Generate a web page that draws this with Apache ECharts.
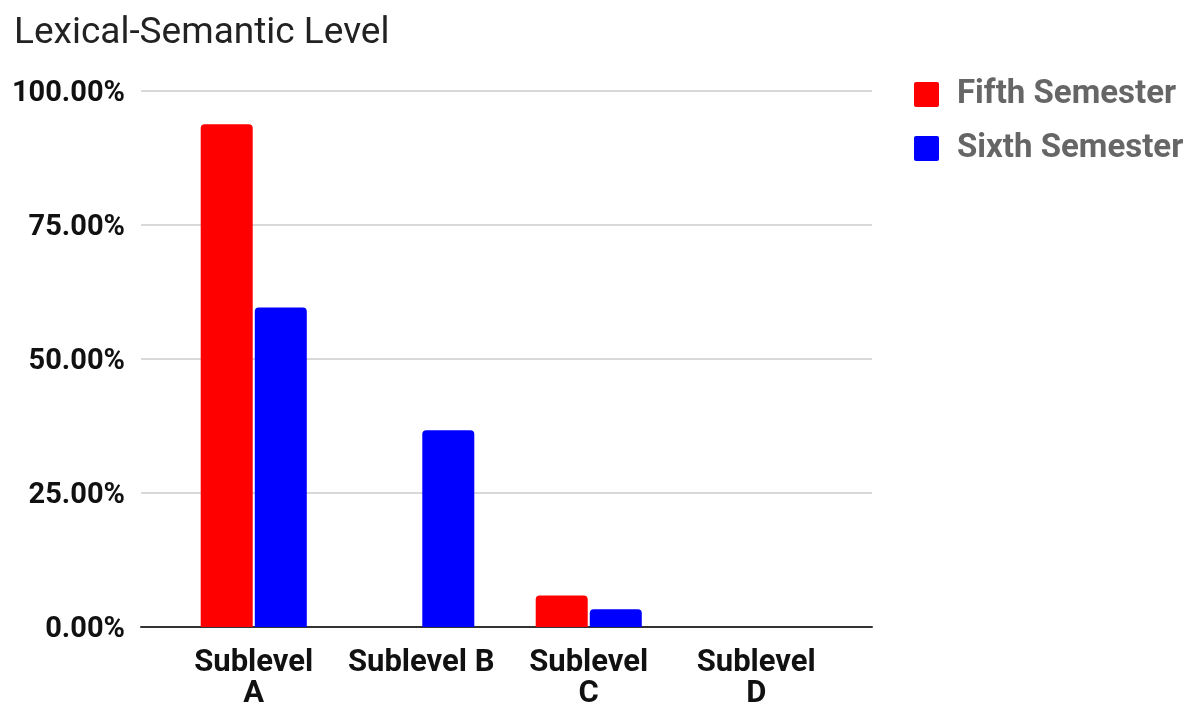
<!DOCTYPE html>
<html>
<head>
<meta charset="utf-8">
<script src="https://cdn.jsdelivr.net/npm/echarts@6/dist/echarts.min.js"></script>
<style>
  html, body { margin: 0; padding: 0; background: #fff; }
  #chart { width: 1188px; height: 704px; }
</style>
</head>
<body>
<div id="chart"></div>
<script>
// Share of items at each sublevel, per semester (percent)
const categories = ['Sublevel\nA', 'Sublevel B', 'Sublevel\nC', 'Sublevel\nD'];
const fifthSemester = [93.8, 0, 5.9, 0];
const sixthSemester = [59.6, 36.7, 3.3, 0];
const seriesNames = ['Fifth Semester', 'Sixth Semester'];
const yTicks = [0, 25, 50, 75, 100];

const FONT = 'Roboto, "Noto Sans", sans-serif';
const chart = echarts.init(document.getElementById('chart'));

const plotTop = 91, plotBottom = 77;
// square legend swatch with slightly softened corners
const swatch = 'path://M2,0H23Q25,0 25,2V23Q25,25 23,25H2Q0,25 0,23V2Q0,0 2,0Z';

chart.setOption({
  animation: false,
  backgroundColor: '#ffffff',
  title: {
    text: 'Lexical-Semantic Level',
    left: 9, top: 10,
    textStyle: { fontFamily: FONT, fontSize: 37, fontWeight: 'normal', color: '#222' }
  },
  legend: {
    orient: 'vertical',
    left: 914, top: 78,
    padding: 0,
    itemWidth: 25, itemHeight: 25,
    itemGap: 21,
    icon: swatch,
    data: seriesNames,
    textStyle: { fontFamily: FONT, fontSize: 33, fontWeight: 'bold', color: '#666', padding: [0, 0, 0, 13] }
  },
  grid: [
    // full-width frame carrying the value scale, gridlines and baseline
    { left: 141, right: 316, top: plotTop, bottom: plotBottom, outerBoundsMode: 'none', containLabel: false },
    // inner band where the bars sit
    { left: 170, right: 348, top: plotTop, bottom: plotBottom, outerBoundsMode: 'none', containLabel: false }
  ],
  xAxis: [
    {
      gridIndex: 0, type: 'category', data: [''],
      axisLine: { show: true, lineStyle: { color: '#333', width: 2 } },
      axisTick: { show: false }, axisLabel: { show: false }
    },
    {
      gridIndex: 1, type: 'category', data: categories,
      axisLine: { show: false }, axisTick: { show: false },
      axisLabel: {
        interval: 0, margin: 21,
        fontFamily: FONT, fontSize: 31, fontWeight: 'bold', color: '#111', lineHeight: 31
      }
    }
  ],
  yAxis: [
    {
      gridIndex: 0, type: 'value', min: 0, max: 100, interval: 25,
      axisLine: { show: false }, axisTick: { show: false },
      splitLine: { lineStyle: { color: '#cccccc', width: 1.5 } },
      axisLabel: {
        margin: 16,
        fontFamily: FONT, fontSize: 29, fontWeight: 'bold', color: '#111',
        formatter: v => yTicks.includes(v) ? '{v|' + v.toFixed(2) + '%}' : '',
        rich: { v: { fontFamily: FONT, fontSize: 29, fontWeight: 'bold', color: '#111', padding: [6, 0, 0, 0] } }
      }
    },
    {
      gridIndex: 1, type: 'value', min: 0, max: 100, interval: 25,
      show: false, splitLine: { show: false }
    }
  ],
  series: [
    {
      name: seriesNames[0], type: 'bar', xAxisIndex: 1, yAxisIndex: 1,
      data: fifthSemester,
      barWidth: 52, barGap: '4%',
      itemStyle: { color: '#ff0000', borderRadius: [4, 4, 0, 0] }
    },
    {
      name: seriesNames[1], type: 'bar', xAxisIndex: 1, yAxisIndex: 1,
      data: sixthSemester,
      barWidth: 52, barGap: '4%',
      itemStyle: { color: '#0000ff', borderRadius: [4, 4, 0, 0] }
    }
  ]
});
</script>
</body>
</html>
